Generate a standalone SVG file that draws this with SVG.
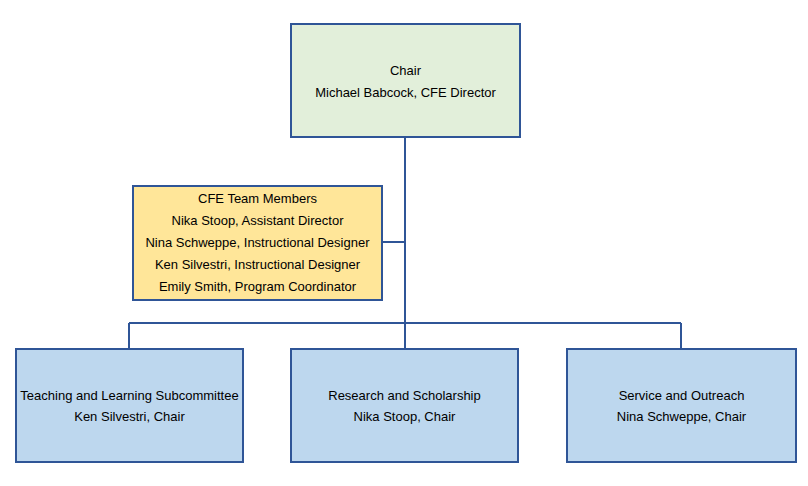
<svg xmlns="http://www.w3.org/2000/svg" width="808" height="486" viewBox="0 0 808 486">
<style>
.box{stroke:#2f5597;stroke-width:2}
.t{font-family:"Liberation Sans",Arial,sans-serif;font-size:13px;fill:#000;text-anchor:middle}
.c{stroke:#2f5597;stroke-width:2;fill:none}
</style>
<rect width="808" height="486" fill="#fff"/>
<g id="connectors">
<path class="c" d="M405,137 V323 M382,242 H405 M129,323 H681 M129,323 V349 M405,323 V349 M681,323 V349"/>
</g>
<g id="chair">
<rect class="box" x="291" y="24" width="229" height="113" fill="#e2efda"/>
<text class="t" x="405.5" y="74.5">Chair</text>
<text class="t" x="405.5" y="96.5">Michael Babcock, CFE Director</text>
</g>
<g id="team">
<rect class="box" x="133" y="186" width="249" height="114" fill="#ffe699"/>
<text class="t" x="257.5" y="202.5">CFE Team Members</text>
<text class="t" x="257.5" y="224.5">Nika Stoop, Assistant Director</text>
<text class="t" x="257.5" y="246.5">Nina Schweppe, Instructional Designer</text>
<text class="t" x="257.5" y="268.5">Ken Silvestri, Instructional Designer</text>
<text class="t" x="257.5" y="290.5">Emily Smith, Program Coordinator</text>
</g>
<g id="teaching">
<rect class="box" x="16" y="349" width="227" height="113" fill="#bdd7ee"/>
<text class="t" x="129.5" y="399.5">Teaching and Learning Subcommittee</text>
<text class="t" x="129.5" y="420.5">Ken Silvestri, Chair</text>
</g>
<g id="research">
<rect class="box" x="291" y="349" width="227" height="113" fill="#bdd7ee"/>
<text class="t" x="404.5" y="399.5">Research and Scholarship</text>
<text class="t" x="404.5" y="420.5">Nika Stoop, Chair</text>
</g>
<g id="service">
<rect class="box" x="567" y="349" width="229" height="113" fill="#bdd7ee"/>
<text class="t" x="681.5" y="399.5">Service and Outreach</text>
<text class="t" x="681.5" y="420.5">Nina Schweppe, Chair</text>
</g>
</svg>
